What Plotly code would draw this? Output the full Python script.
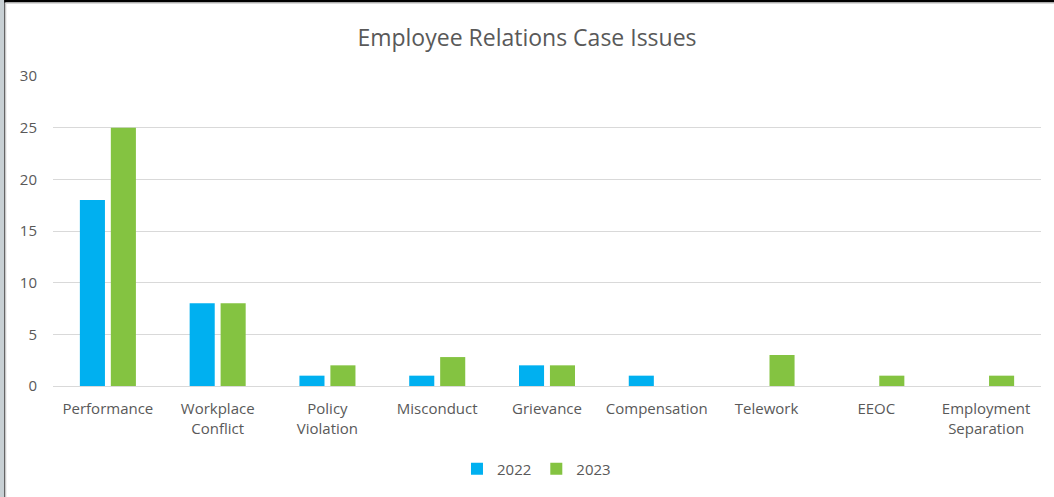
import plotly.graph_objects as go

categories = ["Performance", "Workplace<br>Conflict", "Policy<br>Violation", "Misconduct",
              "Grievance", "Compensation", "Telework", "EEOC", "Employment<br>Separation"]
values_2022 = [18, 8, 1, 1, 2, 1, 0, 0, 0]
values_2023 = [25, 8, 2, 2.8, 2, 0, 3, 1, 1]
y_ticks = [0, 5, 10, 15, 20, 25, 30]

W, H = 1054, 497
L, R, T, B = 53, 13, 76, 111

def fx(x):
    return x / W

def fy(y):
    return 1 - y / H

FONT = "Open Sans"
TXT = "#595959"

fig = go.Figure()
fig.add_trace(go.Bar(name="2022", x=categories, y=values_2022, marker_color="#00b0f0",
                     marker_line_width=0))
fig.add_trace(go.Bar(name="2023", x=categories, y=values_2023, marker_color="#84c341",
                     marker_line_width=0))

shapes = [
    # left window frame
    dict(type="rect", xref="paper", yref="paper", x0=fx(0), x1=fx(4.2), y0=0, y1=1,
         fillcolor="#c8d0d4", line_width=0, layer="above"),
    dict(type="rect", xref="paper", yref="paper", x0=fx(4.2), x1=fx(5.4), y0=0, y1=1,
         fillcolor="#404040", line_width=0, layer="above"),
    dict(type="rect", xref="paper", yref="paper", x0=fx(5.4), x1=fx(6.4), y0=0, y1=fy(2.4),
         fillcolor="#d9d9d9", line_width=0, layer="above"),
    # top frame
    dict(type="rect", xref="paper", yref="paper", x0=fx(4.2), x1=1, y0=fy(2.4), y1=1,
         fillcolor="#000000", line_width=0, layer="above"),
    dict(type="rect", xref="paper", yref="paper", x0=fx(5.4), x1=1, y0=fy(4.0), y1=fy(2.4),
         fillcolor="#d9d9d9", line_width=0, layer="above"),
]

fig.update_layout(
    width=W, height=H,
    margin=dict(l=0, r=0, t=0, b=0, pad=0, autoexpand=False),
    paper_bgcolor="white", plot_bgcolor="white",
    barmode="group", bargap=0.436, bargroupgap=0.19,
    title=dict(text="Employee Relations Case Issues", x=0.5, xanchor="center",
               y=fy(38), yanchor="middle",
               font=dict(family=FONT, size=23, color=TXT)),
    font=dict(family=FONT, size=15, color=TXT),
    legend=dict(orientation="h", x=0.509, xanchor="center", y=fy(469), yanchor="middle",
                font=dict(family=FONT, size=15, color=TXT), itemwidth=30,
                traceorder="normal"),
    shapes=shapes,
)
fig.update_xaxes(domain=[fx(L), fx(W - R)], showgrid=False, showline=True,
                 linecolor="#d9d9d9", linewidth=1,
                 ticks="", ticklabelstandoff=9,
                 tickfont=dict(family=FONT, size=15, color=TXT))
fig.update_yaxes(domain=[fy(H - B), fy(T)], range=[0, 30], tickvals=y_ticks,
                 showgrid=True, gridcolor="#d9d9d9",
                 gridwidth=1, zeroline=False, showline=False, ticks="",
                 ticklabelstandoff=15,
                 tickfont=dict(family=FONT, size=15, color=TXT))

fig.write_html("out.html", config={"displayModeBar": False})
